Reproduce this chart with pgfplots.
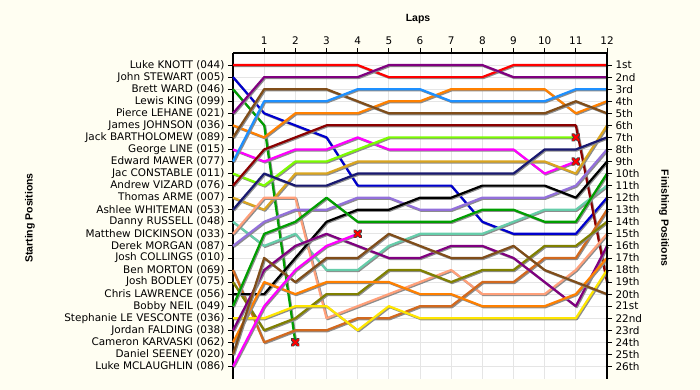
\documentclass[border=0pt]{standalone}
\usepackage{pgfplots}
\pgfplotsset{compat=1.18}
\usepackage{fontspec}
\setmainfont{DejaVu Sans}
\newfontfamily\titlefont{Liberation Sans}
\definecolor{bgcream}{RGB}{255,254,242}
\definecolor{cRed}{RGB}{255,0,0}
\definecolor{cBlue}{RGB}{0,0,205}
\definecolor{cGreen}{RGB}{0,158,0}
\definecolor{cPurple}{RGB}{128,0,128}
\definecolor{cOrange}{RGB}{255,128,0}
\definecolor{cBrown}{RGB}{128,77,25}
\definecolor{cMagenta}{RGB}{255,0,255}
\definecolor{cLightBlue}{RGB}{30,144,255}
\definecolor{cLime}{RGB}{124,252,0}
\definecolor{cMaroon}{RGB}{139,0,0}
\definecolor{cGold}{RGB}{218,165,32}
\definecolor{cNavy}{RGB}{25,25,112}
\definecolor{cAqua}{RGB}{102,205,170}
\definecolor{cSalmon}{RGB}{255,160,122}
\definecolor{cMedPurple}{RGB}{147,112,219}
\definecolor{cChoc}{RGB}{210,105,30}
\definecolor{cOlive}{RGB}{128,128,0}
\definecolor{cYellow}{RGB}{255,230,0}
\pgfplotsset{
  lap/.style={line width=2.2bp, line join=round, mark=none,
    preaction={draw=black!45, line width=2.2bp, transform canvas={xshift=1bp,yshift=-1bp}}},
  commonaxis/.style={
    at={(233bp,11.5bp)}, anchor=south west, scale only axis,
    width=374bp, height=325.5bp,
    xmin=0, xmax=12, ymin=0, ymax=27, y dir=reverse,
    tick align=outside, major tick length=5bp,
    tick style={black, line width=0.8bp},
    axis line style={black, line width=1.2bp},
    tick label style={font=\fontsize{10.5}{12}\selectfont},
    ytick={1,...,26},
  },
}
\begin{document}
\begin{tikzpicture}
\path[use as bounding box, fill=bgcream] (0bp,0bp) rectangle (700bp,390bp);
\begin{axis}[commonaxis,
  axis x line*=top, axis y line*=left,
  axis background/.style={fill=white},
  xtick={1,...,12}, xticklabels={1,2,3,4,5,6,7,8,9,10,11,12},
  yticklabels={Luke KNOTT (044),John STEWART (005),Brett WARD (046),Lewis KING (099),Pierce LEHANE (021),James JOHNSON (036),Jack BARTHOLOMEW (089),George LINE (015),Edward MAWER (077),Jac CONSTABLE (011),Andrew VIZARD (076),Thomas ARME (007),Ashlee WHITEMAN (053),Danny RUSSELL (048),Matthew DICKINSON (033),Derek MORGAN (087),Josh COLLINGS (010),Ben MORTON (069),Josh BODLEY (075),Chris LAWRENCE (056),Bobby NEIL (049),Stephanie LE VESCONTE (036),Jordan FALDING (038),Cameron KARVASKI (062),Daniel SEENEY (020),Luke MCLAUGHLIN (086)},
  grid=major, major grid style={line width=0.8bp, color=black!10},
  clip=false,
]
% Luke KNOTT
\addplot[lap, cRed] coordinates {(0,1)(1,1)(2,1)(3,1)(4,1)(5,2)(6,2)(7,2)(8,2)(9,1)(10,1)(11,1)(12,1)};
% John STEWART
\addplot[lap, cBlue] coordinates {(0,2)(1,5)(2,6)(3,7)(4,11)(5,11)(6,11)(7,11)(8,14)(9,15)(10,15)(11,15)(12,12)};
% Brett WARD
\addplot[lap, cGreen] coordinates {(0,3)(1,6)(2,24)};
% Pierce LEHANE
\addplot[lap, cPurple] coordinates {(0,5)(1,2)(2,2)(3,2)(4,2)(5,1)(6,1)(7,1)(8,1)(9,2)(10,2)(11,2)(12,2)};
% James JOHNSON
\addplot[lap, cOrange] coordinates {(0,6)(1,7)(2,5)(3,5)(4,5)(5,4)(6,4)(7,3)(8,3)(9,3)(10,3)(11,5)(12,4)};
% Jack BARTHOLOMEW
\addplot[lap, cBrown] coordinates {(0,7)(1,3)(2,3)(3,3)(4,4)(5,5)(6,5)(7,5)(8,5)(9,5)(10,5)(11,4)(12,5)};
% George LINE
\addplot[lap, cMagenta] coordinates {(0,8)(1,9)(2,8)(3,8)(4,7)(5,8)(6,8)(7,8)(8,8)(9,8)(10,10)(11,9)};
% Edward MAWER
\addplot[lap, cLightBlue] coordinates {(0,9)(1,4)(2,4)(3,4)(4,3)(5,3)(6,3)(7,4)(8,4)(9,4)(10,4)(11,3)(12,3)};
% Jac CONSTABLE
\addplot[lap, cLime] coordinates {(0,10)(1,11)(2,9)(3,9)(4,8)(5,7)(6,7)(7,7)(8,7)(9,7)(10,7)(11,7)};
% Andrew VIZARD
\addplot[lap, cMaroon] coordinates {(0,11)(1,8)(2,7)(3,6)(4,6)(5,6)(6,6)(7,6)(8,6)(9,6)(10,6)(11,6)(12,19)};
% Thomas ARME
\addplot[lap, cGold] coordinates {(0,12)(1,13)(2,10)(3,10)(4,9)(5,9)(6,9)(7,9)(8,9)(9,9)(10,9)(11,10)(12,6)};
% Ashlee WHITEMAN
\addplot[lap, cNavy] coordinates {(0,13)(1,10)(2,11)(3,11)(4,10)(5,10)(6,10)(7,10)(8,10)(9,10)(10,8)(11,8)(12,7)};
% Danny RUSSELL
\addplot[lap, cAqua] coordinates {(0,14)(1,16)(2,15)(3,18)(4,18)(5,16)(6,15)(7,15)(8,15)(9,14)(10,13)(11,13)(12,11)};
% Matthew DICKINSON
\addplot[lap, cSalmon] coordinates {(0,15)(1,12)(2,12)(3,22)(4,21)(5,20)(6,19)(7,18)(8,20)(9,20)(10,20)(11,18)(12,15)};
% Derek MORGAN
\addplot[lap, cMedPurple] coordinates {(0,16)(1,14)(2,13)(3,13)(4,12)(5,12)(6,13)(7,13)(8,12)(9,12)(10,12)(11,11)(12,8)};
% Ben MORTON
\addplot[lap, cChoc] coordinates {(0,18)(1,24)(2,23)(3,23)(4,22)(5,22)(6,21)(7,21)(8,19)(9,19)(10,17)(11,17)(12,13)};
% Josh BODLEY
\addplot[lap, cOlive] coordinates {(0,19)(1,23)(2,22)(3,20)(4,20)(5,18)(6,18)(7,19)(8,18)(9,18)(10,16)(11,16)(12,14)};
% Chris LAWRENCE
\addplot[lap, black] coordinates {(0,20)(1,20)(2,17)(3,14)(4,13)(5,13)(6,12)(7,12)(8,11)(9,11)(10,11)(11,12)(12,9)};
% Bobby NEIL
\addplot[lap, cGreen] coordinates {(0,21)(1,15)(2,14)(3,12)(4,14)(5,14)(6,14)(7,14)(8,13)(9,13)(10,14)(11,14)(12,10)};
% Stephanie LE VESCONTE
\addplot[lap, cYellow] coordinates {(0,22)(1,22)(2,21)(3,21)(4,23)(5,21)(6,22)(7,22)(8,22)(9,22)(10,22)(11,22)(12,18)};
% Jordan FALDING
\addplot[lap, cPurple] coordinates {(0,23)(1,18)(2,16)(3,15)(4,16)(5,17)(6,17)(7,16)(8,16)(9,17)(10,19)(11,21)(12,16)};
% Cameron KARVASKI
\addplot[lap, cOrange] coordinates {(0,24)(1,19)(2,20)(3,19)(4,19)(5,19)(6,20)(7,20)(8,21)(9,21)(10,21)(11,20)(12,17)};
% Daniel SEENEY
\addplot[lap, cBrown] coordinates {(0,25)(1,17)(2,19)(3,17)(4,17)(5,15)(6,16)(7,17)(8,17)(9,16)(10,18)(11,19)(12,20)};
% Luke MCLAUGHLIN
\addplot[lap, cMagenta] coordinates {(0,26)(1,21)(2,18)(3,16)(4,15)};
% retirements
\addplot[only marks, mark=x, mark size=4bp, mark options={line width=3.6bp, black!75, line cap=round}] coordinates {(2,24)(4,15)(11,7)(11,9)};
\addplot[only marks, mark=x, mark size=4bp, mark options={line width=2bp, red, line cap=round}] coordinates {(2,24)(4,15)(11,7)(11,9)};
\end{axis}
\begin{axis}[commonaxis,
  axis x line=none, axis y line*=right,
  yticklabels={1st,2nd,3rd,4th,5th,6th,7th,8th,9th,10th,11th,12th,13th,14th,15th,16th,17th,18th,19th,20th,21st,22nd,23rd,24th,25th,26th},
]
\addplot[draw=none] coordinates {(0,1)};
\end{axis}
\node[font=\titlefont\bfseries\fontsize{10.5}{12}\selectfont] at (418bp,371bp) {Laps};
\node[font=\titlefont\bfseries\fontsize{10.5}{12}\selectfont, rotate=90] at (30bp,172bp) {Starting Positions};
\node[font=\titlefont\bfseries\fontsize{10.5}{12}\selectfont, rotate=-90] at (664bp,172bp) {Finishing Positions};
\end{tikzpicture}
\end{document}
